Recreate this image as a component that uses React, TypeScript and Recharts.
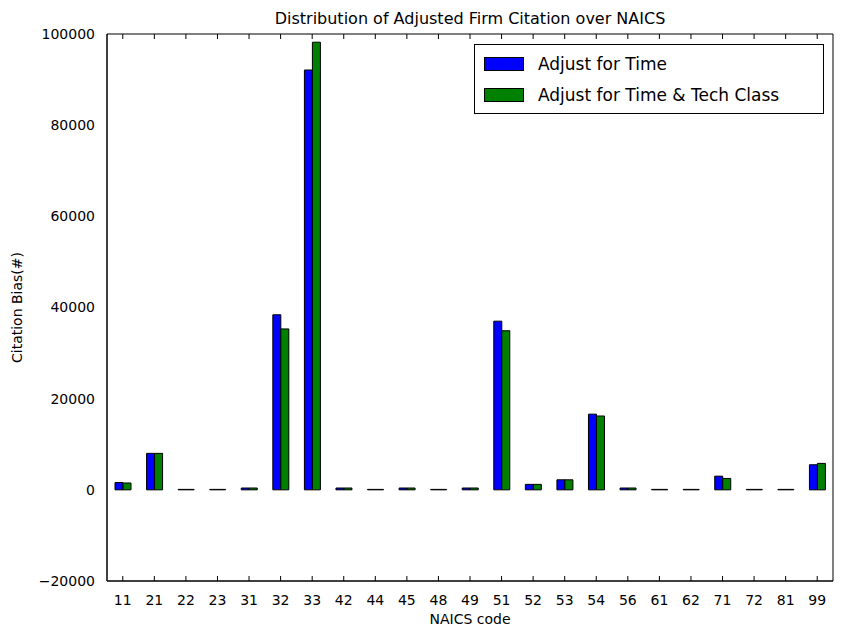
import React from 'react';
import { BarChart, Bar, XAxis, YAxis, Label } from 'recharts';

const codes = ['11', '21', '22', '23', '31', '32', '33', '42', '44', '45', '48', '49', '51', '52', '53', '54', '56', '61', '62', '71', '72', '81', '99'];
const adjTime = [1600, 8000, 100, 100, 400, 38400, 92100, 400, 100, 400, 100, 400, 37000, 1200, 2200, 16600, 400, 100, 100, 3000, 100, 100, 5500];
const adjTimeTech = [1500, 8000, 100, 100, 400, 35300, 98200, 400, 100, 400, 100, 400, 34900, 1200, 2200, 16200, 400, 100, 100, 2500, 100, 100, 5800];
const yTicks = [-20000, 0, 20000, 40000, 60000, 80000, 100000];

const FONT = '"DejaVu Sans", sans-serif';

export default function App() {
  const data = codes.map((c, i) => ({ code: c, time: adjTime[i], tech: adjTimeTech[i] }));
  const tickStyle = { fontSize: 14, fill: '#000', fontFamily: FONT };
  const fmt = (v: number) => String(v).replace('-', '\u2212');
  const blank = () => '';
  const line = { stroke: '#000' };

  return (
    <div style={{ position: 'absolute', left: 0, top: 0, width: 841, height: 631, background: '#fff', fontFamily: FONT }}>
      <div style={{ position: 'absolute', left: 108, width: 724, top: 9, textAlign: 'center', fontSize: 16, color: '#000' }}>
        Distribution of Adjusted Firm Citation over NAICS
      </div>
      <BarChart width={841} height={631} data={data} margin={{ top: 34, right: 8, left: 47, bottom: 20 }} barGap={0} barSize={8}>
        {/* inward tick marks on all four sides (mirrored, no labels) */}
        <XAxis dataKey="code" xAxisId="bm" mirror interval={0} tickFormatter={blank} tickSize={5} axisLine={line} tickLine={line} height={1} />
        <XAxis dataKey="code" xAxisId="b" interval={0} tick={tickStyle} tickLine={false} tickMargin={8} axisLine={line} height={30}>
          <Label value="NAICS code" position="insideBottom" offset={-13} style={{ fontSize: 14, fill: '#000', fontFamily: FONT }} />
        </XAxis>
        <XAxis dataKey="code" xAxisId="t" orientation="top" mirror interval={0} tickFormatter={blank} tickSize={5} axisLine={line} tickLine={line} height={1} />
        <YAxis yAxisId="lm" mirror domain={[-20000, 100000]} ticks={yTicks} tickFormatter={blank} tickSize={5} axisLine={line} tickLine={line} width={1} />
        <YAxis yAxisId="l" domain={[-20000, 100000]} ticks={yTicks} tickFormatter={fmt} tick={tickStyle} tickLine={false} tickMargin={6} axisLine={line} width={60}>
          <Label value="Citation Bias(#)" angle={-90} position="insideLeft" offset={-30} style={{ fontSize: 14, fill: '#000', fontFamily: FONT, textAnchor: 'middle' }} />
        </YAxis>
        <YAxis yAxisId="r" orientation="right" mirror domain={[-20000, 100000]} ticks={yTicks} tickFormatter={blank} tickSize={5} axisLine={line} tickLine={line} width={1} />
        <Bar dataKey="time" xAxisId="b" yAxisId="l" fill="#0000ff" stroke="#000" strokeWidth={1} isAnimationActive={false} />
        <Bar dataKey="tech" xAxisId="b" yAxisId="l" fill="#008000" stroke="#000" strokeWidth={1} isAnimationActive={false} />
      </BarChart>
      <div style={{ position: 'absolute', left: 474, top: 44, width: 348, height: 68, border: '1px solid #000', background: '#fff', fontSize: 17, color: '#000' }}>
        {[['Adjust for Time', '#0000ff'], ['Adjust for Time & Tech Class', '#008000']].map(([name, color], i) => (
          <div key={name} style={{ position: 'absolute', left: 9, top: 8 + i * 31, display: 'flex', alignItems: 'center', height: 22 }}>
            <span style={{ display: 'inline-block', width: 38, height: 12, background: color, border: '1px solid #000', marginRight: 14 }} />
            <span>{name}</span>
          </div>
        ))}
      </div>
    </div>
  );
}
